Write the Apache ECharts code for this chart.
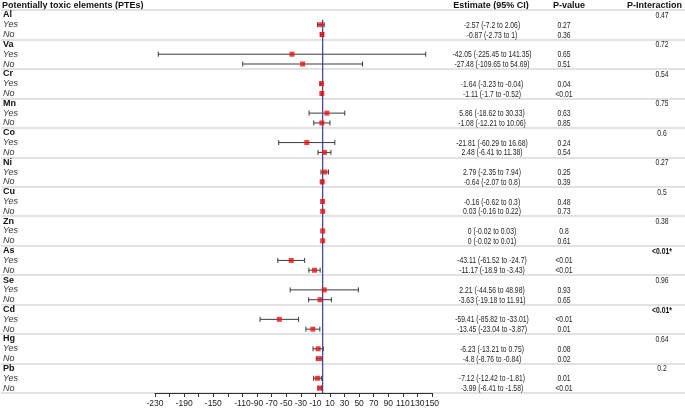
<!DOCTYPE html>
<html><head><meta charset="utf-8">
<script src="https://cdn.jsdelivr.net/npm/echarts@6/dist/echarts.min.js"></script>
<style>html,body{margin:0;padding:0;background:#fff}#c{width:685px;height:411px}</style>
</head><body><div id="c"></div>
<script>
const elements = ['Al','Va','Cr','Mn','Co','Ni','Cu','Zn','As','Se','Cd','Hg','Pb'];
const subgroups = ['Yes','No'];
const yesEst = [-2.57,-42.05,-1.64,5.86,-21.81,2.79,-0.16,0,-43.11,2.21,-59.41,-6.23,-7.12];
const yesLo  = [-7.2,-225.45,-3.23,-18.62,-60.29,-2.35,-0.62,-0.02,-61.52,-44.56,-85.82,-13.21,-12.42];
const yesHi  = [2.06,141.35,-0.04,30.33,16.68,7.94,0.3,0.03,-24.7,48.98,-33.01,0.75,-1.81];
const yesP   = ['0.27','0.65','0.04','0.63','0.24','0.25','0.48','0.8','<0.01','0.93','<0.01','0.08','0.01'];
const noEst  = [-0.87,-27.48,-1.11,-1.08,2.48,-0.64,0.03,0,-11.17,-3.63,-13.45,-4.8,-3.99];
const noLo   = [-2.73,-109.65,-1.7,-12.21,-6.41,-2.07,-0.16,-0.02,-18.9,-19.18,-23.04,-8.76,-6.41];
const noHi   = [1,54.69,-0.52,10.06,11.38,0.8,0.22,0.01,-3.43,11.91,-3.87,-0.84,-1.58];
const noP    = ['0.36','0.51','<0.01','0.85','0.54','0.39','0.73','0.61','<0.01','0.65','0.01','0.02','<0.01'];
const pInteraction = ['0.47','0.72','0.54','0.75','0.6','0.27','0.5','0.38','<0.01*','0.96','<0.01*','0.64','0.2'];
const headers = ['Potentially toxic elements (PTEs)','Estimate (95% CI)','P-value','P-Interaction'];
const tickValues = [-230,-210,-190,-170,-150,-130,-110,-90,-70,-50,-30,-10,10,30,50,70,90,110,130,150];
const tickLabels = [-230,-190,-150,-110,-90,-70,-50,-30,-10,10,30,50,70,90,110,130,150];
const refValue = 0;

// build table rows
const rows = [];
elements.forEach((el, i) => {
  rows.push({kind:'g', label: el, cols:['', '', pInteraction[i]]});
  rows.push({kind:'s', label: subgroups[0], cols:[`${yesEst[i]} (${yesLo[i]} to ${yesHi[i]})`, yesP[i], ''],
             v:[yesLo[i], yesHi[i], yesEst[i]]});
  rows.push({kind:'s', label: subgroups[1], cols:[`${noEst[i]} (${noLo[i]} to ${noHi[i]})`, noP[i], ''],
             v:[noLo[i], noHi[i], noEst[i]]});
});
const N = rows.length;
const cats = rows.map((r, i) => String(i));
const barData = [], ptData = [], textItems = [];
rows.forEach((r, i) => {
  if (r.v) { barData.push([r.v[0], r.v[1], i + 0.5]); ptData.push([r.v[2], i + 0.5]); }
  r.cols.forEach((t, c) => { if (t) textItems.push({row:i, col:c, text:t, bold: t.indexOf('*') >= 0}); });
});

const FONT = 'Liberation Sans, Arial, sans-serif';
const FS = 9;
const VFS = 9.2;
const SQX = 0.74;
const TOP = 10, BOTTOM = 18;
const W = 685;
const colX = [492, 564, 662];

const chart = echarts.init(document.getElementById('c'), null, {renderer:'canvas'});
chart.setOption({
  animation:false,
  backgroundColor:'#fff',
  grid:[
    {left:0, right:0, top:TOP, bottom:BOTTOM},
    {left:155, right:253, top:TOP, bottom:BOTTOM}
  ],
  xAxis:[
    {type:'value', gridIndex:0, show:false, min:0, max:1},
    {type:'value', gridIndex:1, min:-230, max:150, position:'bottom',
      axisLine:{show:true, onZero:false, lineStyle:{color:'#333', width:1}},
      axisTick:{show:true, length:4, lineStyle:{color:'#333'}, customValues: tickValues},
      axisLabel:{show:true, customValues: tickLabels, fontFamily: FONT, fontSize: 8.5, color:'#222', margin:6},
      splitLine:{show:false}}
  ],
  yAxis:[
    {type:'category', gridIndex:0, data: cats, inverse:true, position:'left',
      axisLine:{show:false}, axisTick:{show:false},
      splitLine:{show:true, interval:(idx) => idx % 3 === 0, lineStyle:{color:'#d9d9d9', width:1.6}},
      axisLabel:{show:true, inside:true, margin:2, align:'left', interval:0,
        formatter:(v) => { const r = rows[+v]; return r.kind === 'g' ? `{g|${r.label}}` : `{s|${r.label}}`; },
        rich:{ g:{fontFamily:FONT, fontSize:FS, fontWeight:'bold', color:'#111'},
               s:{fontFamily:FONT, fontSize:FS, fontStyle:'italic', color:'#333'} }}},
    {type:'value', gridIndex:1, min:0, max:N, inverse:true, show:false}
  ],
  graphic:[
    {type:'text', x:2, y:6, style:{text:headers[0], font:`bold ${FS}px ${FONT}`, fill:'#111', textAlign:'left', textVerticalAlign:'middle'}},
    {type:'text', x:491, y:6, style:{text:headers[1], font:`bold ${FS}px ${FONT}`, fill:'#111', textAlign:'center', textVerticalAlign:'middle'}},
    {type:'text', x:569, y:6, style:{text:headers[2], font:`bold ${FS}px ${FONT}`, fill:'#111', textAlign:'center', textVerticalAlign:'middle'}},
    {type:'text', x:W-3, y:6, style:{text:headers[3], font:`bold ${FS}px ${FONT}`, fill:'#111', textAlign:'right', textVerticalAlign:'middle'}}
  ],
  series:[
    {type:'custom', xAxisIndex:0, yAxisIndex:0, data: textItems.map(d => [0, d.row]), z:5,
      renderItem:(params, api) => {
        const d = textItems[params.dataIndex];
        const p = api.coord([0, api.value(1)]);
        return {type:'text', x: colX[d.col], y: p[1] + 0.5, scaleX: SQX,
          style:{text:d.text, font:`${d.bold ? 'bold ' : ''}${VFS}px ${FONT}`, fill: d.bold ? '#111' : '#222',
                 textAlign:'center', textVerticalAlign:'middle', align:'center', verticalAlign:'middle'}};
      }},
    {type:'custom', xAxisIndex:1, yAxisIndex:1, data: barData, z:2,
      renderItem:(params, api) => {
        const y = api.value(2);
        const a = api.coord([api.value(0), y]);
        const b = api.coord([api.value(1), y]);
        const c = 2.5;
        const st = {stroke:'#3a3a3a', lineWidth:1};
        return {type:'group', children:[
          {type:'line', shape:{x1:a[0], y1:a[1], x2:b[0], y2:b[1]}, style:st},
          {type:'line', shape:{x1:a[0], y1:a[1]-c, x2:a[0], y2:a[1]+c}, style:st},
          {type:'line', shape:{x1:b[0], y1:b[1]-c, x2:b[0], y2:b[1]+c}, style:st}
        ]};
      }},
    {type:'line', xAxisIndex:1, yAxisIndex:1, data:[[refValue, 1], [refValue, N]], symbol:'none', z:3,
      lineStyle:{color:'#3d3d9e', width:1.2}},
    {type:'scatter', xAxisIndex:1, yAxisIndex:1, data: ptData, symbol:'rect', symbolSize:5, z:4,
      itemStyle:{color:'#ee1111'}}
  ]
});
</script></body></html>
